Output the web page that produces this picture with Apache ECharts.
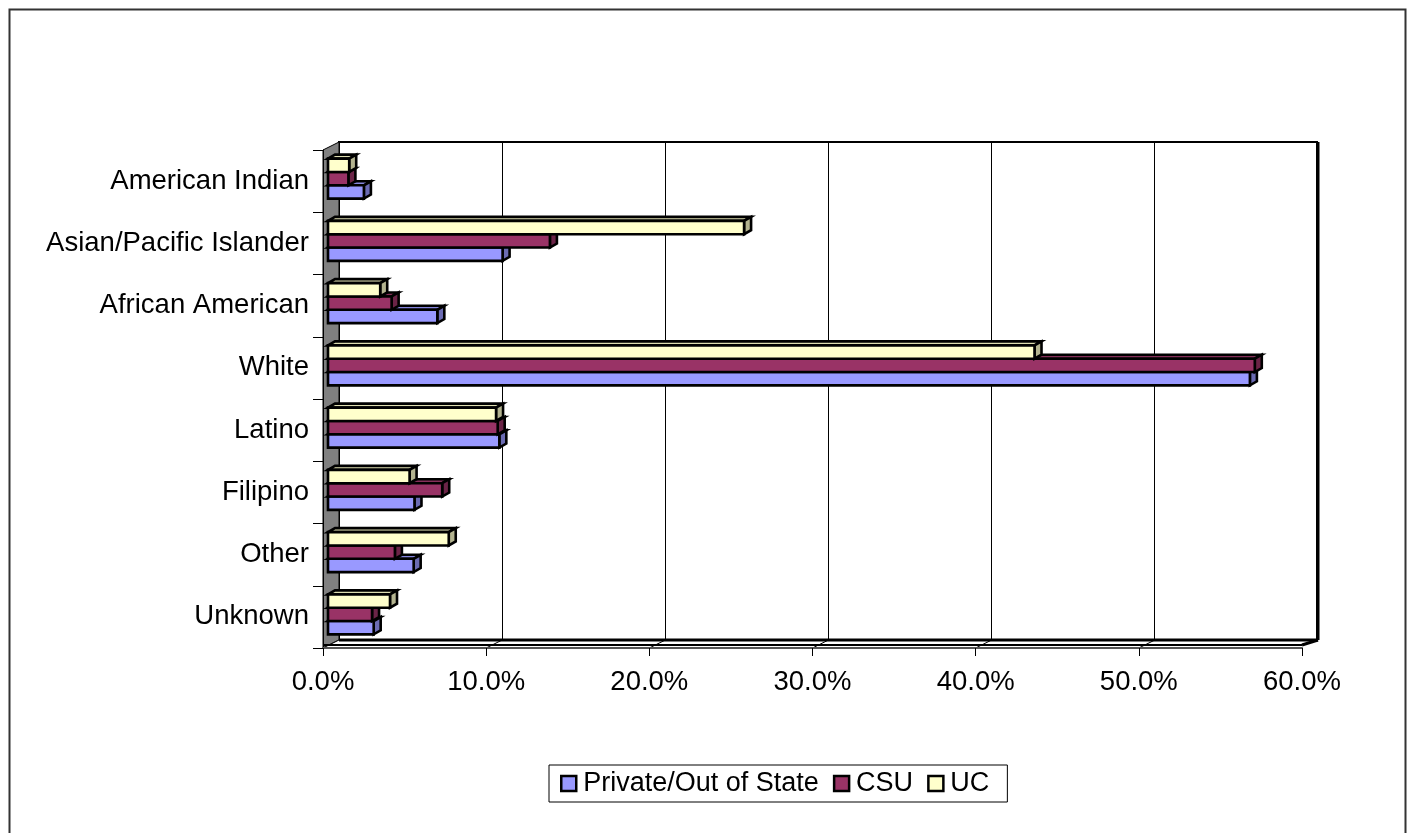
<!DOCTYPE html>
<html>
<head>
<meta charset="utf-8">
<script src="https://cdn.jsdelivr.net/npm/echarts@6/dist/echarts.min.js"></script>
<style>
html,body{margin:0;padding:0;background:#fff;}
#chart{width:1409px;height:833px;}
</style>
</head>
<body>
<div id="chart"></div>
<script>
const categories = ['American Indian','Asian/Pacific Islander','African American','White','Latino','Filipino','Other','Unknown'];
const privateOut = [2.2, 10.7, 6.7, 56.5, 10.5, 5.3, 5.25, 2.8];
const csu = [1.25, 13.6, 3.9, 56.8, 10.4, 7.0, 4.1, 2.7];
const uc = [1.3, 25.5, 3.2, 43.3, 10.3, 5.0, 7.4, 3.8];
const seriesNames = ['Private/Out of State','CSU','UC'];
const xTicks = [0, 10, 20, 30, 40, 50, 60];

const FONT = '"Liberation Sans", Arial, sans-serif';
const faceColors = ['#9999FF','#993366','#FFFFCC'];
const sideColors = ['#6B6BB3','#6B2447','#B3B38F'];
const topColors  = ['#8585DD','#85305A','#DDDDB0'];

function barRender(s){
  return function(params, api){
    const ci = api.value(0), v = api.value(1);
    const p0 = api.coord([0, ci]);
    const p1 = api.coord([v, ci]);
    const band = api.size([0, 1])[1];
    const h = band * 0.214;
    const yTop = p0[1] - h/2 + (1 - s) * h;
    const x0 = p0[0], x1 = p1[0];
    const dx = 7, dy = 4;
    const st = {stroke:'#000', lineWidth:2.6, lineJoin:'miter'};
    return {type:'group', children:[
      {type:'polygon', shape:{points:[[x0,yTop],[x0+dx,yTop-dy],[x1+dx,yTop-dy],[x1,yTop]]}, style:Object.assign({fill:topColors[s]}, st)},
      {type:'polygon', shape:{points:[[x1,yTop],[x1+dx,yTop-dy],[x1+dx,yTop+h-dy],[x1,yTop+h]]}, style:Object.assign({fill:sideColors[s]}, st)},
      {type:'rect', shape:{x:x0, y:yTop, width:x1-x0, height:h}, style:Object.assign({fill:faceColors[s]}, st)}
    ]};
  };
}

function frameRender(params, api){
  const cs = params.coordSys;
  const DX = 16, DY = 8;
  const cx = cs.x, cy = cs.y, ch = cs.height, by = cs.y + cs.height;
  const xs = xTicks.map(t => api.coord([t, 0])[0]);
  const xr = xs[xs.length-1];
  const children = [];
  children.push({type:'polygon', shape:{points:[[cx,cy],[cx+DX,cy-DY],[cx+DX,by-DY],[cx,by]]},
    style:{fill:'#808080', stroke:'#000', lineWidth:1}});
  children.push({type:'polygon', shape:{points:[[cx,by],[cx+DX,by-DY],[xr+DX,by-DY],[xr,by]]},
    style:{fill:'#fff', stroke:null}});
  for (let k = 1; k < xs.length-1; k++) {
    children.push({type:'line', shape:{x1:xs[k], y1:by, x2:xs[k]+DX, y2:by-DY}, style:{stroke:'#000', lineWidth:1}});
  }
  children.push({type:'line', shape:{x1:cx+DX, y1:by-DY, x2:xr+DX, y2:by-DY}, style:{stroke:'#000', lineWidth:3}});
  children.push({type:'line', shape:{x1:cx, y1:by-3, x2:xr, y2:by-3}, style:{stroke:'#000', lineWidth:2}});
  children.push({type:'line', shape:{x1:xr, y1:by-3, x2:xr+DX, y2:by-DY}, style:{stroke:'#000', lineWidth:3}});
  children.push({type:'line', shape:{x1:xr+DX, y1:cy-DY, x2:xr+DX, y2:by-DY}, style:{stroke:'#000', lineWidth:3}});
  children.push({type:'line', shape:{x1:cx, y1:by, x2:cx+DX, y2:by-DY}, style:{stroke:'#000', lineWidth:1}});
  return {type:'group', children};
}

function toData(arr){ return arr.map((v, i) => [i, v]); }

const chart = echarts.init(document.getElementById('chart'), null, {renderer:'canvas'});
const option = {
  backgroundColor:'#fff',
  animation:false,
  textStyle:{fontFamily:FONT},
  graphic:[{type:'rect', left:7, top:7, shape:{width:1396, height:840}, style:{fill:null, stroke:'#333', lineWidth:2}, z:100}],
  legend:{
    data:seriesNames, left:549, top:765, orient:'horizontal',
    icon:'rect', itemWidth:15, itemHeight:15, itemGap:14,
    padding:[5, 18, 5, 11], borderColor:'#000', borderWidth:1,
    itemStyle:{borderColor:'#000', borderWidth:2.5},
    textStyle:{fontSize:27, color:'#000', fontFamily:FONT, padding:[0,0,0,2]}
  },
  grid:[
    {left:323, top:150, width:979, height:498, show:false},
    {left:328, top:147.5, width:979, height:498, show:false},
    {left:339, top:142, width:978, height:498, show:true, backgroundColor:'#fff', borderColor:'#000', borderWidth:2, z:0}
  ],
  xAxis:[
    {gridIndex:0, type:'value', min:0, max:60, interval:10, z:5,
      axisLine:{show:true, lineStyle:{color:'#555', width:2}},
      axisTick:{show:true, length:8, lineStyle:{color:'#000', width:1}},
      splitLine:{show:false},
      axisLabel:{fontSize:27.5, color:'#000', margin:20, fontFamily:FONT, formatter:v => v.toFixed(1) + '%'}},
    {gridIndex:1, type:'value', min:0, max:60, interval:10, show:false},
    {gridIndex:2, type:'value', min:0, max:60, interval:10, z:1,
      axisLine:{show:false}, axisTick:{show:false}, axisLabel:{show:false},
      splitLine:{show:true, lineStyle:{color:'#000', width:1}}}
  ],
  yAxis:[
    {gridIndex:0, type:'category', data:categories, inverse:true, z:5,
      axisLine:{show:true, lineStyle:{color:'#000', width:1}},
      axisTick:{show:true, length:10, lineStyle:{color:'#000', width:1}},
      axisLabel:{fontSize:27.5, color:'#000', margin:14, fontFamily:FONT}},
    {gridIndex:1, type:'category', data:categories, inverse:true, show:false},
    {gridIndex:2, type:'category', data:categories, inverse:true, show:false, splitLine:{show:false}}
  ],
  series:[
    {type:'custom', name:'frame', xAxisIndex:0, yAxisIndex:0, z:2, silent:true,
      renderItem:frameRender, data:[[0,0]], encode:{x:1, y:0}},
    {type:'custom', name:seriesNames[0], xAxisIndex:1, yAxisIndex:1, z:3, renderItem:barRender(0),
      itemStyle:{color:faceColors[0]}, data:toData(privateOut), encode:{x:1, y:0}},
    {type:'custom', name:seriesNames[1], xAxisIndex:1, yAxisIndex:1, z:3, renderItem:barRender(1),
      itemStyle:{color:faceColors[1]}, data:toData(csu), encode:{x:1, y:0}},
    {type:'custom', name:seriesNames[2], xAxisIndex:1, yAxisIndex:1, z:3, renderItem:barRender(2),
      itemStyle:{color:faceColors[2]}, data:toData(uc), encode:{x:1, y:0}}
  ]
};
chart.setOption(option);
</script>
</body>
</html>
